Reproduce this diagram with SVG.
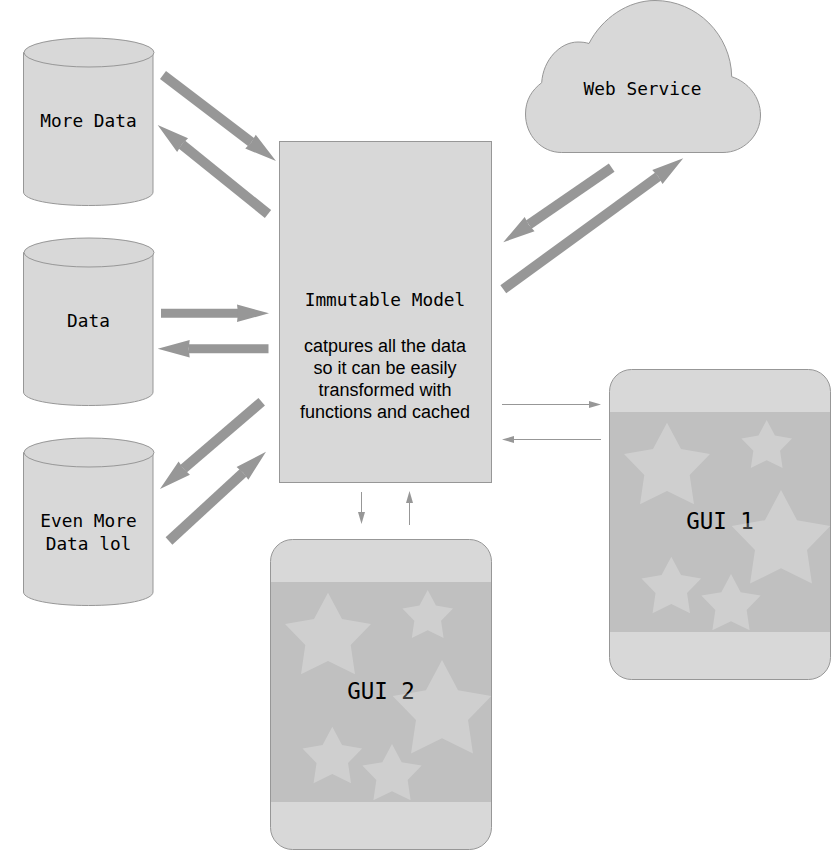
<svg xmlns="http://www.w3.org/2000/svg" width="831" height="852" viewBox="0 0 831 852">
<style>
.s{fill:#d8d8d8;stroke:#979797;stroke-width:1}
.band{fill:#c0c0c0}
.star{fill:#fff;fill-opacity:.24}
.m{font-family:"DejaVu Sans Mono","Liberation Mono",monospace;font-size:17.8px;fill:#000;text-anchor:middle}
.g{font-family:"DejaVu Sans Mono","Liberation Mono",monospace;font-size:22.5px;fill:#000;text-anchor:middle}
.h{font-family:"Liberation Sans",Arial,sans-serif;font-size:18px;fill:#000;text-anchor:middle}
.thick{stroke:#979797;stroke-width:9;fill:none;marker-end:url(#big)}
.diag{stroke-width:10}
.thin{stroke:#979797;stroke-width:1;fill:none;marker-end:url(#small)}
</style>
<defs>
<marker id="big" markerUnits="userSpaceOnUse" markerWidth="40" markerHeight="24" refX="1" refY="12" orient="auto" overflow="visible"><path d="M0,3.300 L32,12 L0,20.700 L1,12 Z" fill="#979797"/></marker>
<marker id="small" markerUnits="userSpaceOnUse" markerWidth="14" markerHeight="10" refX="1" refY="5" orient="auto" overflow="visible"><path d="M0,1.500 L12,5 L0,8.500 Z" fill="#979797"/></marker>
<path id="star" d="M0,0 L14,26.300 L43,31.300 L22.700,52.300 L27,81.600 L0,68.300 L-27,81.600 L-22.700,52.300 L-43,31.300 L-14,26.300 Z"/>
<path id="cyl" d="M-65.500,14.500 L-65.500,154 C-65.500,162 -37,167.500 -0.500,167.500 C36,167.500 64,162 64,154 L64,14.500 Z"/>
</defs>

<g id="connectors">
<path class="thick diag" d="M163,75 L251.300,142.200"/>
<path class="thick diag" d="M268,214 L181.800,144.500"/>
<path class="thick" d="M161,313.300 L238,313.300"/>
<path class="thick" d="M268.500,348.700 L188.700,348.700"/>
<path class="thick diag" d="M261.700,401.700 L183.500,468.800"/>
<path class="thick diag" d="M169,541 L243.200,472.700"/>
<path class="thick diag" d="M611.700,167.700 L528.800,224.700"/>
<path class="thick diag" d="M503.300,289.300 L658.200,176.500"/>
<path class="thin" d="M502,404.500 L590,404.500"/>
<path class="thin" d="M601,439.500 L513,439.500"/>
<path class="thin" d="M361.500,492 L361.500,513"/>
<path class="thin" d="M409.500,525 L409.500,502"/>
</g>

<g id="more-data">
<use href="#cyl" class="s" x="89" y="38"/>
<ellipse class="s" cx="89" cy="52.500" rx="65" ry="14.500"/>
<text class="m" x="88.500" y="126.700">More Data</text>
</g>
<g id="data">
<use href="#cyl" class="s" x="89" y="238"/>
<ellipse class="s" cx="89" cy="252.500" rx="65" ry="14.500"/>
<text class="m" x="88.500" y="326.700">Data</text>
</g>
<g id="even-more-data">
<use href="#cyl" class="s" x="89" y="438"/>
<ellipse class="s" cx="89" cy="452.500" rx="65" ry="14.500"/>
<text class="m" x="88.500" y="526.700">Even More</text>
<text class="m" x="88.500" y="549.700">Data lol</text>
</g>

<g id="web-service">
<path class="s" d="M561.700,152.500 C541,152.500 525.500,135 525.500,114 C525.500,100 532,90 541.700,82.700 C543,60 560,42 578,42 C582,42 586,42.500 589,43.500 C602,18 628,0.500 655,0.500 C697,0.500 731,35 731.700,76.700 C748,82 760.500,97 760.500,115 C760.500,136 743,152.500 723,152.500 Z"/>
<text class="m" x="642.500" y="94.500">Web Service</text>
</g>

<g id="immutable-model">
<rect class="s" x="279.500" y="141.500" width="212" height="341"/>
<text class="m" x="385" y="306">Immutable Model</text>
<text class="h" x="385" y="352">catpures all the data</text>
<text class="h" x="385" y="374">so it can be easily</text>
<text class="h" x="385" y="396">transformed with</text>
<text class="h" x="385" y="418">functions and cached</text>
</g>

<g id="gui-1">
<rect class="s" x="609.500" y="369.500" width="221" height="310" rx="22" ry="22"/>
<rect class="band" x="610" y="412" width="220" height="220"/>
<text class="g" x="720" y="529">GUI 1</text>
<use href="#star" class="star" transform="translate(667,422.700)"/>
<use href="#star" class="star" transform="translate(766.700,420) scale(.589)"/>
<use href="#star" class="star" transform="translate(781,490) scale(1.147)"/>
<use href="#star" class="star" transform="translate(671.300,556.700) scale(.694)"/>
<use href="#star" class="star" transform="translate(731,574) scale(.69)"/>
</g>

<g id="gui-2">
<rect class="s" x="270.500" y="539.500" width="221" height="310" rx="22" ry="22"/>
<rect class="band" x="271" y="582" width="220" height="220"/>
<text class="g" x="381" y="699">GUI 2</text>
<use href="#star" class="star" transform="translate(328,592.700)"/>
<use href="#star" class="star" transform="translate(427.700,590) scale(.589)"/>
<use href="#star" class="star" transform="translate(442,660) scale(1.147)"/>
<use href="#star" class="star" transform="translate(332.300,726.700) scale(.694)"/>
<use href="#star" class="star" transform="translate(392,744) scale(.69)"/>
</g>
</svg>
